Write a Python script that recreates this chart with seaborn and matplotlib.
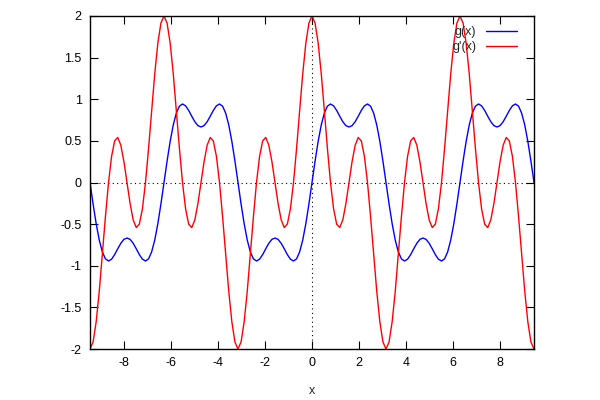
import numpy as np
import pandas as pd
import seaborn as sns
import matplotlib
matplotlib.use("Agg")
import matplotlib.pyplot as plt

# sample points, x from -3*pi to 3*pi (step pi/24)
x_pos = [0, 0.131, 0.262, 0.393, 0.524, 0.654, 0.785, 0.916, 1.047, 1.178, 1.309, 1.440,
         1.571, 1.702, 1.833, 1.963, 2.094, 2.225, 2.356, 2.487, 2.618, 2.749, 2.880, 3.011,
         3.142, 3.272, 3.403, 3.534, 3.665, 3.796, 3.927, 4.058, 4.189, 4.320, 4.451, 4.581,
         4.712, 4.843, 4.974, 5.105, 5.236, 5.367, 5.498, 5.629, 5.760, 5.890, 6.021, 6.152,
         6.283, 6.414, 6.545, 6.676, 6.807, 6.938, 7.069, 7.199, 7.330, 7.461, 7.592, 7.723,
         7.854, 7.985, 8.116, 8.247, 8.378, 8.508, 8.639, 8.770, 8.901, 9.032, 9.163, 9.294,
         9.425]
x = [-v for v in x_pos[:0:-1]] + x_pos

g = [-0.000, -0.258, -0.495, -0.691, -0.833, -0.917, -0.943, -0.921, -0.866, -0.796, -0.730, -0.683,
     -0.667, -0.683, -0.730, -0.796, -0.866, -0.921, -0.943, -0.917, -0.833, -0.691, -0.495, -0.258,
     0.000, 0.258, 0.495, 0.691, 0.833, 0.917, 0.943, 0.921, 0.866, 0.796, 0.730, 0.683,
     0.667, 0.683, 0.730, 0.796, 0.866, 0.921, 0.943, 0.917, 0.833, 0.691, 0.495, 0.258,
     -0.000, -0.258, -0.495, -0.691, -0.833, -0.917, -0.943, -0.921, -0.866, -0.796, -0.730, -0.683,
     -0.667, -0.683, -0.730, -0.796, -0.866, -0.921, -0.943, -0.917, -0.833, -0.691, -0.495, -0.258,
     0.000, 0.258, 0.495, 0.691, 0.833, 0.917, 0.943, 0.921, 0.866, 0.796, 0.730, 0.683,
     0.667, 0.683, 0.730, 0.796, 0.866, 0.921, 0.943, 0.917, 0.833, 0.691, 0.495, 0.258,
     -0.000, -0.258, -0.495, -0.691, -0.833, -0.917, -0.943, -0.921, -0.866, -0.796, -0.730, -0.683,
     -0.667, -0.683, -0.730, -0.796, -0.866, -0.921, -0.943, -0.917, -0.833, -0.691, -0.495, -0.258,
     0.000, 0.258, 0.495, 0.691, 0.833, 0.917, 0.943, 0.921, 0.866, 0.796, 0.730, 0.683,
     0.667, 0.683, 0.730, 0.796, 0.866, 0.921, 0.943, 0.917, 0.833, 0.691, 0.495, 0.258,
     0.000]

dg = [-2.000, -1.915, -1.673, -1.307, -0.866, -0.411, 0.000, 0.315, 0.500, 0.541, 0.448, 0.252,
      0.000, -0.252, -0.448, -0.541, -0.500, -0.315, 0.000, 0.411, 0.866, 1.307, 1.673, 1.915,
      2.000, 1.915, 1.673, 1.307, 0.866, 0.411, 0.000, -0.315, -0.500, -0.541, -0.448, -0.252,
      0.000, 0.252, 0.448, 0.541, 0.500, 0.315, 0.000, -0.411, -0.866, -1.307, -1.673, -1.915,
      -2.000, -1.915, -1.673, -1.307, -0.866, -0.411, 0.000, 0.315, 0.500, 0.541, 0.448, 0.252,
      0.000, -0.252, -0.448, -0.541, -0.500, -0.315, 0.000, 0.411, 0.866, 1.307, 1.673, 1.915,
      2.000, 1.915, 1.673, 1.307, 0.866, 0.411, 0.000, -0.315, -0.500, -0.541, -0.448, -0.252,
      0.000, 0.252, 0.448, 0.541, 0.500, 0.315, 0.000, -0.411, -0.866, -1.307, -1.673, -1.915,
      -2.000, -1.915, -1.673, -1.307, -0.866, -0.411, 0.000, 0.315, 0.500, 0.541, 0.448, 0.252,
      0.000, -0.252, -0.448, -0.541, -0.500, -0.315, 0.000, 0.411, 0.866, 1.307, 1.673, 1.915,
      2.000, 1.915, 1.673, 1.307, 0.866, 0.411, 0.000, -0.315, -0.500, -0.541, -0.448, -0.252,
      0.000, 0.252, 0.448, 0.541, 0.500, 0.315, 0.000, -0.411, -0.866, -1.307, -1.673, -1.915,
      -2.000]

x_ticks = [-8, -6, -4, -2, 0, 2, 4, 6, 8]
y_ticks = [-2, -1.5, -1, -0.5, 0, 0.5, 1, 1.5, 2]
y_tick_labels = ["-2", "-1.5", "-1", "-0.5", "0", "0.5", "1", "1.5", "2"]

df = pd.DataFrame({
    "x": x + x,
    "y": g + dg,
    "series": ["g(x)"] * len(x) + ["g'(x)"] * len(x),
})

sns.set_style("ticks")
plt.rcParams["font.family"] = ["Liberation Sans", "DejaVu Sans"]
plt.rcParams["axes.unicode_minus"] = False

fig = plt.figure(figsize=(6, 4), dpi=100)
ax = fig.add_axes([0.15, 0.1275, 0.74, 0.8325])

# zero axes (dotted)
ax.axhline(0, color="black", lw=0.8, ls=(0, (1, 3)), zorder=1)
ax.axvline(0, color="black", lw=0.8, ls=(0, (1, 3)), zorder=1)

sns.lineplot(data=df, x="x", y="y", hue="series", palette=["#0000ff", "#ff0000"],
             linewidth=1.0, ax=ax, legend=True, zorder=2)

ax.set_xlim(-9.425, 9.425)
ax.set_ylim(-2, 2)
ax.set_xticks(x_ticks)
ax.set_xticklabels([str(t) for t in x_ticks])
ax.set_yticks(y_ticks)
ax.set_yticklabels(y_tick_labels)
ax.tick_params(direction="in", length=6, width=0.8, top=True, right=True,
               labelsize=9, pad=6, colors="black")
for s in ax.spines.values():
    s.set_linewidth(1.0)
    s.set_color("black")
ax.set_xlabel("x", fontsize=9, labelpad=11)
ax.set_ylabel("")

handles, labels = ax.get_legend_handles_labels()
ax.legend(handles, labels, loc="upper right", bbox_to_anchor=(0.985, 1.0),
          frameon=False, markerfirst=False, fontsize=9, handlelength=2.5,
          handletextpad=0.8, labelspacing=0.25, borderpad=0.3)

fig.savefig("out.png", dpi=100)
